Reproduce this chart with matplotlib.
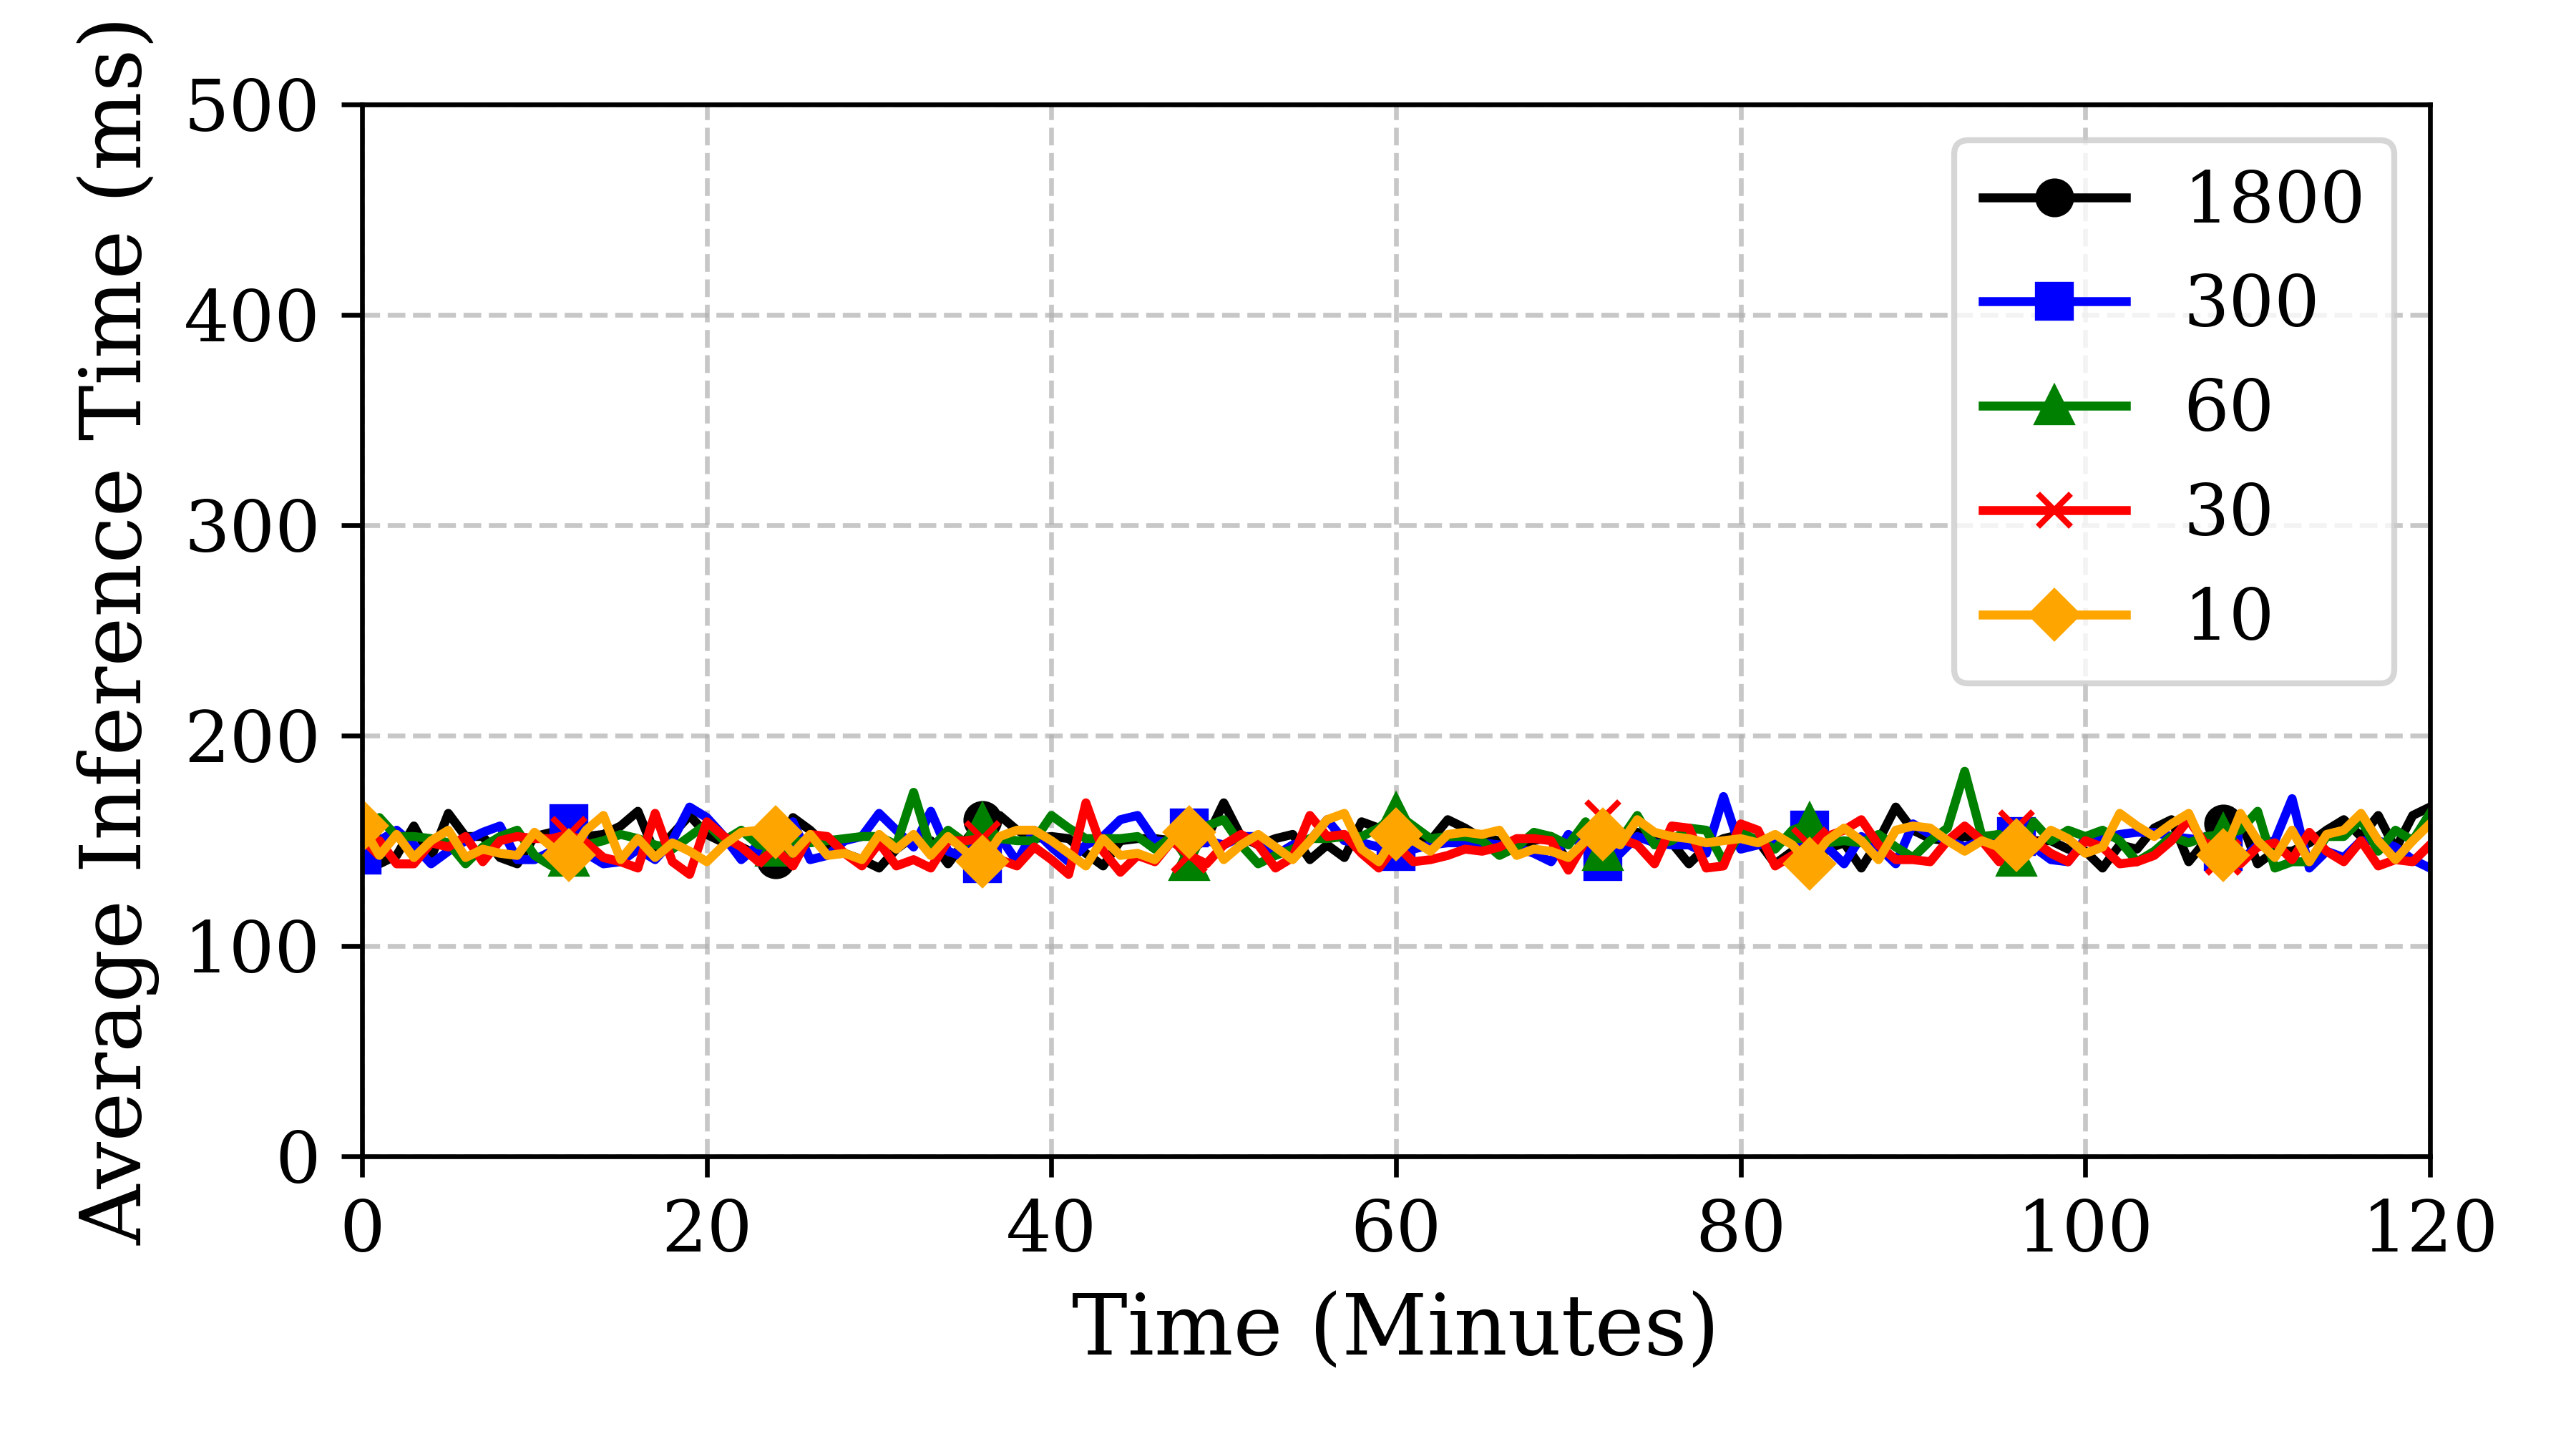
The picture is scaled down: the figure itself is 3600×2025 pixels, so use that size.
import matplotlib
matplotlib.use('Agg')
import matplotlib.pyplot as plt

plt.rcParams['font.family'] = 'serif'

# time axis, one sample per minute
minutes = list(range(0, 121))

t1800 = [150, 139, 143, 157, 142, 163, 152, 152, 142, 139, 152, 154, 153, 152, 153, 157, 164, 144, 153, 162, 153,
         149, 147, 143, 141, 161, 155, 147, 144, 141, 137, 146, 152, 150, 139, 150, 160, 162, 155, 151, 152,
         151, 144, 138, 150, 151, 151, 150, 154, 151, 168, 152, 148, 151, 153, 141, 148, 142, 159, 156, 150,
         150, 150, 160, 156, 151, 150, 148, 150, 152, 140, 150, 152, 144, 154, 150, 149, 139, 147, 151, 153,
         150, 139, 145, 147, 146, 149, 137, 150, 166, 155, 151, 150, 152, 151, 153, 150, 150, 150, 146, 145,
         137, 148, 146, 156, 160, 140, 150, 158, 160, 139, 145, 145, 149, 155, 160, 152, 162, 146, 162, 166]

t300 = [143, 150, 155, 148, 139, 145, 150, 154, 157, 141, 141, 145, 158, 144, 139, 140, 146, 141, 150, 166, 161,
        152, 141, 148, 147, 159, 141, 143, 150, 152, 163, 155, 147, 164, 145, 142, 139, 152, 140, 155, 147,
        140, 148, 152, 160, 162, 150, 149, 156, 150, 148, 152, 152, 143, 148, 150, 160, 150, 149, 147, 145,
        146, 148, 149, 149, 149, 148, 147, 144, 140, 153, 147, 140, 144, 152, 149, 148, 148, 144, 171, 146,
        148, 150, 151, 155, 147, 139, 152, 147, 139, 158, 153, 150, 147, 150, 153, 152, 147, 141, 140, 151,
        151, 153, 154, 154, 152, 151, 150, 145, 140, 148, 150, 170, 137, 145, 142, 150, 150, 147, 141, 137]

t60 = [158, 161, 152, 152, 151, 149, 139, 147, 152, 155, 143, 138, 142, 148, 150, 153, 151, 148, 146, 152, 158,
       150, 155, 148, 147, 150, 149, 150, 151, 152, 152, 148, 173, 146, 155, 149, 158, 151, 150, 150, 162,
       156, 151, 151, 151, 152, 146, 152, 140, 157, 160, 148, 139, 143, 146, 151, 151, 152, 152, 156, 163,
       157, 151, 152, 152, 150, 143, 147, 154, 152, 148, 159, 145, 150, 162, 148, 150, 156, 155, 140, 154,
       150, 146, 155, 158, 149, 150, 149, 153, 147, 142, 150, 156, 183, 152, 153, 142, 159, 150, 155, 152,
       155, 150, 140, 145, 152, 149, 152, 153, 155, 164, 137, 140, 140, 152, 152, 160, 145, 155, 150, 163]

t30 = [150, 150, 139, 139, 149, 147, 152, 140, 150, 152, 151, 151, 153, 149, 142, 140, 137, 163, 140, 134, 159,
       152, 147, 140, 146, 138, 153, 152, 144, 138, 149, 138, 141, 137, 150, 150, 151, 141, 138, 147, 141,
       134, 168, 145, 135, 143, 140, 150, 143, 139, 148, 153, 148, 137, 142, 162, 152, 153, 144, 137, 148,
       140, 141, 143, 146, 145, 147, 151, 151, 150, 136, 150, 161, 151, 148, 139, 157, 156, 137, 138, 158,
       155, 138, 143, 148, 152, 155, 160, 148, 141, 141, 140, 150, 157, 150, 140, 156, 150, 144, 140, 150,
       147, 139, 140, 143, 150, 160, 148, 142, 139, 147, 149, 141, 154, 145, 140, 150, 138, 141, 140, 148]

t10 = [157, 143, 153, 142, 150, 155, 142, 146, 144, 143, 154, 147, 143, 155, 162, 141, 151, 142, 149, 145, 140,
       148, 154, 155, 154, 144, 153, 143, 144, 141, 153, 146, 153, 143, 152, 145, 140, 152, 155, 155, 150,
       144, 138, 151, 143, 144, 141, 150, 154, 155, 141, 148, 153, 147, 141, 150, 160, 163, 146, 140, 153,
       150, 145, 153, 154, 153, 155, 143, 146, 145, 142, 150, 153, 148, 160, 154, 152, 151, 149, 150, 151,
       149, 153, 148, 139, 150, 156, 150, 141, 155, 157, 156, 150, 145, 150, 147, 148, 146, 155, 151, 144,
       147, 163, 157, 152, 158, 163, 145, 143, 163, 150, 142, 155, 140, 153, 155, 163, 150, 141, 150, 158]

labels = ['1800', '300', '60', '30', '10']
series = [t1800, t300, t60, t30, t10]
colors = ['black', 'blue', 'green', 'red', 'orange']
markers = ['o', 's', '^', 'x', 'D']

fig, ax = plt.subplots(figsize=(6, 3.375))
fig.subplots_adjust(left=0.1406, right=0.9433, bottom=0.202, top=0.928)

for vals, lab, col, mk in zip(series, labels, colors, markers):
    ax.plot(minutes, vals, color=col, marker=mk, label=lab, linewidth=1.5,
            markersize=5.5, markevery=list(range(0, 109, 12)))

ax.set_xlim(0, 120)
ax.set_ylim(0, 500)
ax.set_xticks(range(0, 121, 20))
ax.set_yticks(range(0, 501, 100))
ax.tick_params(labelsize=12)
ax.set_xlabel('Time (Minutes)', fontsize=14)
ax.set_ylabel('Average Inference Time (ms)', fontsize=14)
ax.grid(True, linestyle='--', alpha=0.7)
ax.legend(loc='upper right', fontsize=12)

plt.savefig('out.png', dpi=600)
plt.close(fig)
